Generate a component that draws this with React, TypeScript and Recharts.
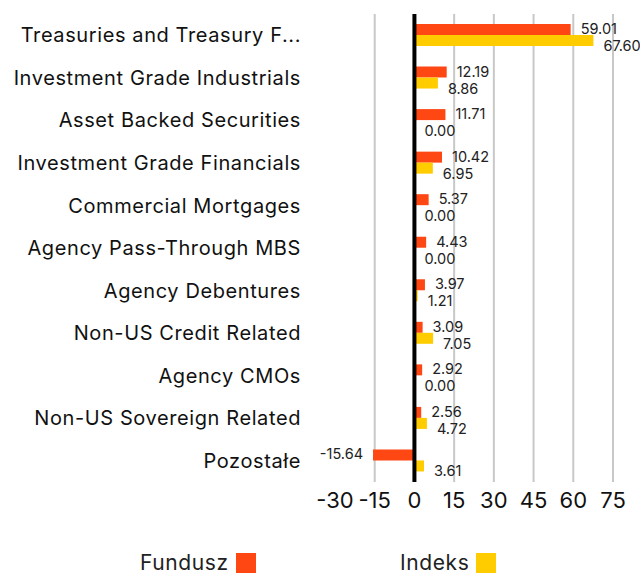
import React from 'react';
import {
  BarChart,
  Bar,
  XAxis,
  YAxis,
  CartesianGrid,
  ReferenceLine,
  LabelList,
  Legend,
} from 'recharts';

const categories = [
  'Treasuries and Treasury F...',
  'Investment Grade Industrials',
  'Asset Backed Securities',
  'Investment Grade Financials',
  'Commercial Mortgages',
  'Agency Pass-Through MBS',
  'Agency Debentures',
  'Non-US Credit Related',
  'Agency CMOs',
  'Non-US Sovereign Related',
  'Pozostałe',
];

const fundValues = [59.01, 12.19, 11.71, 10.42, 5.37, 4.43, 3.97, 3.09, 2.92, 2.56, -15.64];
const indexValues = [67.6, 8.86, 0.0, 6.95, 0.0, 0.0, 1.21, 7.05, 0.0, 4.72, 3.61];

const xTicks = [-30, -15, 0, 15, 30, 45, 60, 75];
const xMin = xTicks[0];
const xMax = xTicks[xTicks.length - 1];

const FUND_COLOR = '#ff4714';
const INDEX_COLOR = '#ffcc00';
const FONT = 'Inter, "Open Sans", sans-serif';

const data = categories.map((name, i) => ({
  name,
  fund: fundValues[i],
  index: indexValues[i],
}));

function valueText(x: number, y: number, v: number, key: string) {
  const neg = v < 0;
  return (
    <text
      key={key}
      x={neg ? x - 10 : x + 10}
      y={y}
      textAnchor={neg ? 'end' : 'start'}
      dominantBaseline="central"
      fontSize={14.5}
      fontFamily={FONT}
      fill="#222"
    >
      {v.toFixed(2)}
    </text>
  );
}

// Labels for both series are drawn from the fund bars, because recharts
// skips labels on zero-length bars (the index has several 0.00 values).
function PairLabel(props: any) {
  const { x, y, width, height, value, index } = props;
  const v = Number(value);
  const a = Number(x);
  const b = Number(x) + Number(width);
  const zeroX = v >= 0 ? Math.min(a, b) : Math.max(a, b);
  const pxPerUnit = Math.abs(b - a) / Math.abs(v);
  const fundEnd = v >= 0 ? Math.max(a, b) : Math.min(a, b);
  const iv = indexValues[index];
  const indexEnd = zeroX + iv * pxPerUnit;
  const cy = Number(y) + Number(height) / 2;
  return (
    <g>
      {valueText(fundEnd, cy - 1, v, 'f')}
      {valueText(indexEnd, cy + Number(height) + 5, iv, 'i')}
    </g>
  );
}

// vertical grid lines at every tick except the left edge
function gridX({ offset }: any) {
  return xTicks
    .slice(1)
    .map((t) => offset.left + ((t - xMin) / (xMax - xMin)) * offset.width);
}

function LegendBox() {
  const items = [
    { label: 'Fundusz', color: FUND_COLOR, left: 140 },
    { label: 'Indeks', color: INDEX_COLOR, left: 400 },
  ];
  return (
    <div style={{ position: 'relative', height: 51, width: 640 }}>
      {items.map((it) => (
        <div
          key={it.label}
          style={{
            position: 'absolute',
            left: it.left,
            bottom: 0,
            display: 'flex',
            alignItems: 'center',
            fontFamily: FONT,
            fontSize: 21,
            letterSpacing: 0.6,
            color: '#222',
            lineHeight: '20px',
          }}
        >
          <span>{it.label}</span>
          <span
            style={{
              display: 'inline-block',
              width: 20,
              height: 20,
              marginLeft: 7,
              background: it.color,
            }}
          />
        </div>
      ))}
    </div>
  );
}

export default function App() {
  return (
    <div style={{ position: 'absolute', left: 0, top: 0 }}>
      <BarChart
        width={640}
        height={577}
        data={data}
        layout="vertical"
        margin={{ top: 14, right: 27, bottom: 4, left: 0 }}
        barGap={0}
        barSize={11}
      >
        <CartesianGrid
          horizontal={false}
          stroke="#c8c8c8"
          strokeWidth={2}
          verticalCoordinatesGenerator={gridX}
        />
        <XAxis
          type="number"
          domain={[xMin, xMax]}
          ticks={xTicks}
          axisLine={false}
          tickLine={false}
          tickSize={0}
          tickMargin={10}
          height={40}
          interval={0}
          tick={{ fill: '#111', fontSize: 22, fontFamily: FONT }}
        />
        <YAxis
          type="category"
          dataKey="name"
          width={335}
          axisLine={false}
          tickLine={false}
          tickSize={0}
          tickMargin={34}
          interval={0}
          tick={{ fill: '#111', fontSize: 20, fontFamily: FONT, letterSpacing: 0.6 }}
        />
        <Legend verticalAlign="bottom" height={51} content={() => <LegendBox />} />
        <Bar dataKey="fund" name="Fundusz" fill={FUND_COLOR} isAnimationActive={false}>
          <LabelList dataKey="fund" content={PairLabel} />
        </Bar>
        <Bar dataKey="index" name="Indeks" fill={INDEX_COLOR} isAnimationActive={false} />
        <ReferenceLine x={0} stroke="#000" strokeWidth={4} />
      </BarChart>
    </div>
  );
}
